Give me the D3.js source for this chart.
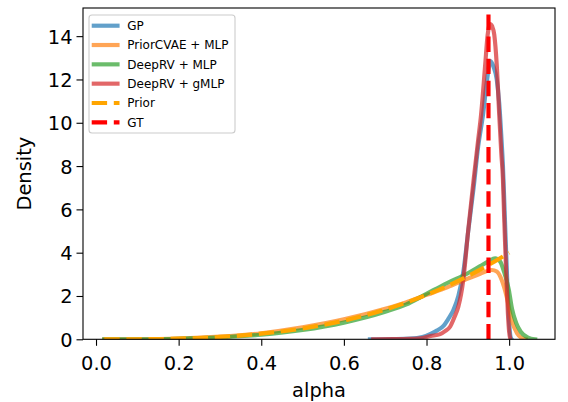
<!DOCTYPE html>
<html><head><meta charset="utf-8">
<script src="https://cdn.jsdelivr.net/npm/d3@7"></script>
<style>
body{margin:0;background:#fff;}
svg{display:block;font-family:"DejaVu Sans",sans-serif;}
</style></head>
<body><svg id="c" width="568" height="402"></svg>
<script>
// ---- data ----
const gpX   = [0.663,0.72,0.76,0.79,0.81,0.825,0.841,0.853,0.865,0.877,0.889,0.901,0.914,0.925,0.937,0.946,0.955,0.962,0.970,0.976,0.981,0.985,0.988,0.991,0.994,0.997,1.000,1.003,1.006];
const gpY   = [0,0.01,0.03,0.1,0.25,0.4,0.62,0.95,1.35,2.0,3.1,5.0,7.0,8.9,10.4,11.9,12.85,12.6,12.0,10.9,9.4,8.0,6.5,4.9,3.4,1.9,0.8,0.15,0];
const cvaeX = [0.02,0.1,0.2,0.3,0.4,0.5,0.6,0.7,0.75,0.8,0.85,0.9,0.93,0.958,0.97,0.982,0.994,1.006,1.019,1.03,1.04];
const cvaeY = [0,0.004,0.035,0.12,0.28,0.55,0.92,1.41,1.7,2.05,2.4,2.8,3.03,3.2,3.13,2.74,1.97,0.89,0.28,0.06,0];
const mlpX  = [0.02,0.1,0.2,0.3,0.4,0.5,0.6,0.7,0.75,0.8,0.85,0.9,0.93,0.95,0.966,0.978,0.988,0.999,1.007,1.017,1.028,1.042,1.053,1.063];
const mlpY  = [0,0.003,0.025,0.09,0.21,0.43,0.77,1.27,1.6,2.1,2.6,3.05,3.38,3.6,3.74,3.6,3.1,2.3,1.4,0.75,0.35,0.12,0.03,0];
const gmlpX = [0.671,0.72,0.76,0.79,0.81,0.833,0.845,0.857,0.867,0.877,0.889,0.901,0.914,0.925,0.932,0.942,0.948,0.954,0.959,0.964,0.970,0.976,0.981,0.985,0.988,0.991,0.994,0.997,1.000,1.003];
const gmlpY = [0,0.005,0.02,0.06,0.15,0.24,0.38,0.58,1.0,1.5,2.74,5.05,7.36,9.2,10.36,12.67,14.06,14.56,14.45,14.06,12.67,10.36,8.6,7.4,5.6,4.0,2.5,1.2,0.35,0];
const priorX = [0.02,0.1,0.2,0.3,0.4,0.5,0.6,0.7,0.8,0.85,0.9,0.95,1.0];
const priorY = [0,0.004,0.03,0.11,0.26,0.5,0.86,1.37,2.05,2.46,2.92,3.43,4.0];
const gtAlpha = 0.95;
const xTicks = [0.0,0.2,0.4,0.6,0.8,1.0];
const yTicks = [0,2,4,6,8,10,12,14];
const legendLabels = ["GP","PriorCVAE + MLP","DeepRV + MLP","DeepRV + gMLP","Prior","GT"];

// ---- layout ----
const L=83,R=555,T=8,B=339.3;
const svg=d3.select("#c");
const x=d3.scaleLinear().domain([-0.0315,1.111]).range([L,R]);
const y=d3.scaleLinear().domain([0,15.3]).range([B,T]);
const LW=4.17;

svg.append("defs").append("clipPath").attr("id","clip")
  .append("rect").attr("x",L).attr("y",T).attr("width",R-L).attr("height",B-T);
const g=svg.append("g").attr("clip-path","url(#clip)");

const line=d3.line().x(d=>x(d[0])).y(d=>y(d[1])).curve(d3.curveMonotoneX);
const zip=(a,b)=>a.map((v,i)=>[v,b[i]]);

const series=[
  {xs:gpX,ys:gpY,color:"#1f77b4",op:0.7,dash:null},
  {xs:cvaeX,ys:cvaeY,color:"#ff7f0e",op:0.7,dash:null},
  {xs:mlpX,ys:mlpY,color:"#2ca02c",op:0.7,dash:null},
  {xs:gmlpX,ys:gmlpY,color:"#d62728",op:0.7,dash:null},
  {xs:priorX,ys:priorY,color:"#ffa500",op:1,dash:"15.4,6.7"}
];
series.forEach(s=>{
  g.append("path").attr("d",line(zip(s.xs,s.ys)))
   .attr("fill","none").attr("stroke",s.color).attr("stroke-opacity",s.op)
   .attr("stroke-width",LW).attr("stroke-linejoin","round")
   .attr("stroke-linecap",s.dash?"butt":"square")
   .attr("stroke-dasharray",s.dash);
});
g.append("line").attr("x1",x(gtAlpha)).attr("x2",x(gtAlpha)).attr("y1",B).attr("y2",T)
 .attr("stroke","#ff0000").attr("stroke-width",LW).attr("stroke-dasharray","15.4,6.7");

// ---- axes ----
const xa=svg.append("g").attr("transform",`translate(0,${B})`)
  .call(d3.axisBottom(x).tickValues(xTicks).tickFormat(d3.format(".1f")).tickSize(6.5).tickPadding(3));
const ya=svg.append("g").attr("transform",`translate(${L},0)`)
  .call(d3.axisLeft(y).tickValues(yTicks).tickFormat(d3.format("d")).tickSize(6.5).tickPadding(4));
[xa,ya].forEach(a=>{
  a.select(".domain").remove();
  a.selectAll(".tick line").attr("stroke","#000").attr("stroke-width",1.1);
  a.selectAll(".tick text").attr("fill","#000").attr("font-size",19.4).attr("font-family","DejaVu Sans");
});
xa.selectAll(".tick text").attr("dy",null).attr("y",0).attr("dominant-baseline","auto").attr("transform","translate(0,30.5)");
ya.selectAll(".tick text").attr("dy","0.36em");

svg.append("rect").attr("x",L).attr("y",T).attr("width",R-L).attr("height",B-T)
  .attr("fill","none").attr("stroke","#000").attr("stroke-width",1.1);

svg.append("text").attr("x",(L+R)/2).attr("y",397).attr("text-anchor","middle")
  .attr("font-size",19.4).text("alpha");
svg.append("text").attr("transform",`translate(31,${(T+B)/2}) rotate(-90)`).attr("text-anchor","middle")
  .attr("font-size",19.4).text("Density");

// ---- legend ----
const lg=svg.append("g");
lg.append("rect").attr("x",89).attr("y",15).attr("width",146).attr("height",118).attr("rx",3)
  .attr("fill","#fff").attr("fill-opacity",0.8).attr("stroke","#cccccc").attr("stroke-width",1.1);
const legStyles=[...series.map(s=>({color:s.color,op:s.op,dash:s.dash})),{color:"#ff0000",op:1,dash:"15.4,6.7"}];
legendLabels.forEach((lab,i)=>{
  const cy=25.7+i*19.32, st=legStyles[i];
  lg.append("line").attr("x1",st.dash?91.7:93.8).attr("x2",st.dash?119.5:117.5).attr("y1",cy).attr("y2",cy)
    .attr("stroke",st.color).attr("stroke-opacity",st.op).attr("stroke-width",LW)
    .attr("stroke-linecap",st.dash?"butt":"square").attr("stroke-dasharray",st.dash);
  lg.append("text").attr("x",127.3).attr("y",cy+4.4).attr("font-size",12).text(lab);
});
</script></body></html>
